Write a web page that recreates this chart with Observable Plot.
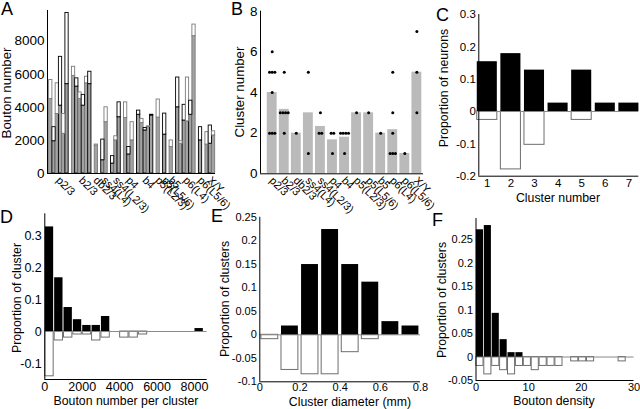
<!DOCTYPE html>
<html><head><meta charset="utf-8">
<script src="https://cdn.jsdelivr.net/npm/d3@7"></script>
<script src="https://cdn.jsdelivr.net/npm/@observablehq/plot@0.6"></script>
<style>
body{margin:0;background:#fff;}
#fig{position:relative;width:640px;height:409px;overflow:hidden;font-family:"Liberation Sans",Arial,sans-serif;color:#000;}
.p{position:absolute;}
.p svg{overflow:visible;}
.lab{position:absolute;font-size:12.3px;white-space:nowrap;line-height:1;transform:translate(-50%,-50%);}
.big{font-size:13.3px;}
.rot{transform:translate(-50%,-50%) rotate(-90deg);}
.letter{position:absolute;font-size:18px;line-height:1;}
</style></head><body><div id="fig"></div>
<script>
// ---------- data ----------
const groups = ["p2/3","b2/3","db2/3","ss4(L4)","ss4(L2/3)","p4","b4","p5(L2/3)","p5(L5/6)","b5","p6(L4)","p6(L5/6)","X/Y"];
// Panel A: total boutons and boutons in clusters per neuron
const boutonTotal = [
  [5650,2800,5450,7050,3600,9700],
  [6450,5750,4900,4750,5850,6150],
  [1750],
  [2050,4000],
  [1050,2250,4300],
  [4300,1600,3100],
  [3800,3300,2750,2850,3550],
  [4470],
  [3620],
  [2000],
  [5800,1950,4150,5800,4400,9000],
  [2800],
  [2500,2900,2550]
];
const boutonCluster = [
  [4500,1950,3600,4100,2400,5400],
  [5900,5250,4500,4100,5450,5400],
  [1680],
  [800,3100],
  [600,2000,3400],
  [3350,1150,2000],
  [3550,3050,2600,2800,3500],
  [3380],
  [2350],
  [1600],
  [4000,1800,3200,3150,3550,8300],
  [2000],
  [1750,1800,2300]
];
// Panel B: mean cluster number and per-neuron cluster numbers
const clusterMean = [4.0,3.17,2.0,3.0,2.33,1.67,1.8,3.0,3.0,2.0,2.17,1.0,5.0];
const clusterCounts = [
  [4,6,5,5,5,2,2,2],[5,3,3,3,3,2],[2],[5,1],[3,2,2],[2,2,1],[2,2,2,2,1],[3],[3],[2],[5,3,2,1,1,1],[1],[7,5,3]
];
// Panel C
const clusterNumbers = [1,2,3,4,5,6,7];
const cBlack = [0.154,0.179,0.128,0.026,0.128,0.026,0.026];
const cWhite = [0.026,0.179,0.103,0,0.026,0,0];
// Panel D (bin width 500)
const dBins = [0,500,1000,1500,2000,2500,3000,3500,4000,4500,5000,8000];
const dBlack = [0.327,0.168,0.075,0.037,0.019,0.019,0.047,0,0,0,0,0.0093];
const dWhite = [0.140,0.028,0.019,0.0093,0.0093,0.028,0.019,0,0.019,0.019,0.0093,0];
// Panel E (bin width 0.1)
const eBins = [0,0.1,0.2,0.3,0.4,0.5,0.6,0.7];
const eBlack = [0,0.0187,0.1495,0.224,0.1495,0.112,0.028,0.0187];
const eWhite = [0.0093,0.0748,0.084,0.084,0.037,0.0093,0,0];
// Panel F (bin width 1.5)
const fBins = [0,1.5,3,4.5,6,7.5,9,10.5,12,13.5,15,16.5,18,19.5,21,22.5,24,25.5,27];
const fBlack = [0.271,0.280,0.093,0.037,0.0093,0.0093,0,0,0,0,0,0,0,0,0,0,0,0,0];
const fWhite = [0.019,0.037,0.019,0.028,0.037,0.019,0.019,0.028,0.019,0.019,0.019,0,0.0093,0.0093,0.0093,0,0,0,0.0093];

// ---------- helpers ----------
const FONT = "Liberation Sans, Arial, sans-serif";
const fmt = v => String(+(+v).toFixed(3));
const fig = document.getElementById("fig");
function place(svg, left, top){ const d=document.createElement("div"); d.className="p"; d.style.left=left+"px"; d.style.top=top+"px"; d.appendChild(svg); fig.appendChild(d); }
function text(t, x, y, cls){ const d=document.createElement("div"); d.className=cls; d.textContent=t; d.style.left=x+"px"; d.style.top=y+"px"; fig.appendChild(d); }
const style = fs => ({fontFamily: FONT, fontSize: fs, background: "transparent", overflow: "visible", color: "black"});
const rotLabels = (data, x) => Plot.text(data, {x, y: 0, text: "g", rotate: 45, textAnchor: "start", lineAnchor: "middle", dy: 5, dx: -1, fontSize: 11, fill: "black"});

// ---------- Panel A ----------
{
  const bars = []; const ticks = []; let s = 0;
  groups.forEach((g, gi) => {
    const start = s;
    boutonTotal[gi].forEach((t, j) => { bars.push({slot: s, total: t, cl: boutonCluster[gi][j], k: bars.length}); s++; });
    ticks.push({g, c: (start + s - 1) / 2}); s++;
  });
  const xd = [-1, 50.6], yd = [0, 9850];
  const edge = d => d.k % 2 ? "#000" : "#7a7a7a";
  place(Plot.plot({
    width: 215, height: 205, marginLeft: 47, marginRight: 0, marginTop: 10, marginBottom: 32,
    style: style("13.5px"),
    x: {domain: xd, axis: null},
    y: {domain: yd, ticks: [0,2000,4000,6000,8000], tickSize: 0, tickPadding: 3, tickFormat: fmt, label: null},
    marks: [
      Plot.rectY(bars, {x1: d => d.slot - 0.5, x2: d => d.slot + 0.5, y1: 0, y2: "cl", fill: "#a3a3a3", stroke: edge, strokeWidth: 0.9}),
      Plot.rectY(bars, {x1: d => d.slot - 0.5, x2: d => d.slot + 0.5, y1: "cl", y2: "total", fill: "white", stroke: edge, strokeWidth: 0.9}),
      Plot.ruleX([xd[0]], {y1: yd[0], y2: yd[1], stroke: "black"}),
      Plot.ruleY([0], {x1: xd[0], x2: xd[1], stroke: "black"}),
      rotLabels(ticks, "c")
    ]
  }), 0, 0);
}

// ---------- Panel B ----------
{
  const bars = clusterMean.map((m, i) => ({i, m, g: groups[i]}));
  const dots = [];
  clusterCounts.forEach((arr, gi) => {
    const byVal = d3.group(arr, v => v);
    for (const [v, list] of byVal) list.forEach((_, k) => dots.push({x: gi + (k - (list.length - 1) / 2) * 0.22, v}));
  });
  const xd = [-0.97, 12.55], yd = [0, 8];
  place(Plot.plot({
    width: 215, height: 205, marginLeft: 45, marginRight: 7, marginTop: 10.7, marginBottom: 31.7,
    style: style("13.5px"),
    x: {domain: xd, axis: null},
    y: {domain: yd, ticks: [0,2,4,6,8], tickSize: 0, tickPadding: 3, tickFormat: fmt, label: null},
    marks: [
      Plot.rectY(bars, {x1: d => d.i - 0.41, x2: d => d.i + 0.41, y1: 0, y2: "m", fill: "#bababa"}),
      Plot.dot(dots, {x: "x", y: "v", r: 1.5, fill: "black", stroke: "none"}),
      Plot.ruleX([xd[0]], {y1: yd[0], y2: yd[1], stroke: "black"}),
      Plot.ruleY([0], {x1: xd[0], x2: xd[1], stroke: "black"}),
      rotLabels(bars, "i")
    ]
  }), 215, 0);
}

// ---------- histogram-style panels ----------
function mirrorPanel({left, top, width, height, m, fs, pad, xd, yd, xticks, yticks, pos, neg, x1, x2, inset}) {
  return place(Plot.plot({
    width, height, marginLeft: m[0], marginRight: m[1], marginTop: m[2], marginBottom: m[3],
    style: style(fs),
    x: {domain: xd, ticks: xticks, tickSize: 0, tickPadding: pad, tickFormat: fmt, label: null},
    y: {domain: yd, ticks: yticks, tickSize: 0, tickPadding: 3, tickFormat: fmt, label: null},
    marks: [
      Plot.rectY(neg.filter(d => d.v > 0), {x1, x2, y1: 0, y2: d => -d.v, fill: "white", stroke: "#6e6e6e", strokeWidth: 1, insetLeft: inset, insetRight: inset}),
      Plot.ruleY([0], {x1: xd[0], x2: xd[1], stroke: "#8a8a8a"}),
      Plot.rectY(pos.filter(d => d.v > 0), {x1, x2, y1: 0, y2: "v", fill: "black", insetLeft: inset, insetRight: inset}),
      Plot.ruleX([xd[0]], {y1: yd[0], y2: yd[1], stroke: "black"}),
      Plot.ruleY([yd[0]], {x1: xd[0], x2: xd[1], stroke: "black"})
    ]
  }), left, top);
}

// Panel C
mirrorPanel({left: 430, top: 0, width: 210, height: 205, m: [48.3, 1.7, 14, 29.3], fs: "11.5px", pad: 3,
  xd: [0.64, 7.42], yd: [-0.2, 0.3], xticks: clusterNumbers, yticks: [-0.2,-0.1,0,0.1,0.2,0.3],
  pos: clusterNumbers.map((c, i) => ({c, v: cBlack[i]})), neg: clusterNumbers.map((c, i) => ({c, v: cWhite[i]})),
  x1: d => d.c - 0.425, x2: d => d.c + 0.425, inset: 0});

// Panel D
mirrorPanel({left: 0, top: 205, width: 215, height: 204, m: [44.3, 8.3, 8.3, 30], fs: "12.5px", pad: 3,
  xd: [0, 8680], yd: [-0.15, 0.368], xticks: [0,2000,4000,6000,8000], yticks: [-0.1,0,0.1,0.2,0.3],
  pos: dBins.map((b, i) => ({b, v: dBlack[i]})), neg: dBins.map((b, i) => ({b, v: dWhite[i]})),
  x1: d => d.b, x2: d => d.b + 500, inset: 0.5});

// Panel E
mirrorPanel({left: 215, top: 205, width: 215, height: 204, m: [44.3, 10, 11.8, 27.7], fs: "11px", pad: 1,
  xd: [0, 0.8], yd: [-0.1, 0.25], xticks: [0,0.2,0.4,0.6,0.8], yticks: [-0.1,-0.05,0,0.05,0.1,0.15,0.2,0.25],
  pos: eBins.map((b, i) => ({b, v: eBlack[i]})), neg: eBins.map((b, i) => ({b, v: eWhite[i]})),
  x1: d => d.b, x2: d => d.b + 0.1, inset: 1.6});

// Panel F
mirrorPanel({left: 430, top: 205, width: 210, height: 204, m: [45.5, 6.5, 13, 29], fs: "11px", pad: 3,
  xd: [0, 30], yd: [-0.05, 0.295], xticks: [0,10,20,30], yticks: [-0.05,0,0.05,0.1,0.15,0.2,0.25],
  pos: fBins.map((b, i) => ({b, v: fBlack[i]})), neg: fBins.map((b, i) => ({b, v: fWhite[i]})),
  x1: d => d.b, x2: d => d.b + 1.5, inset: 0.4});

// ---------- labels ----------
text("A", 1, 0, "letter"); text("B", 231, 0, "letter"); text("C", 436, 6, "letter");
text("D", 0, 208, "letter"); text("E", 211, 207, "letter"); text("F", 432, 211, "letter");
text("Bouton number", 7, 93, "lab big rot");
text("Cluster number", 240, 92, "lab big rot");
text("Proportion of neurons", 444, 88, "lab rot");
text("Cluster number", 558, 198, "lab");
text("Proportion of cluster", 17, 298, "lab rot");
text("Bouton number per cluster", 126, 401, "lab");
text("Proportion of clusters", 225, 299, "lab rot");
text("Cluster diameter (mm)", 350, 402, "lab");
text("Proportion of clusters", 442, 300, "lab rot");
text("Bouton density", 554, 401, "lab");
</script></body></html>
